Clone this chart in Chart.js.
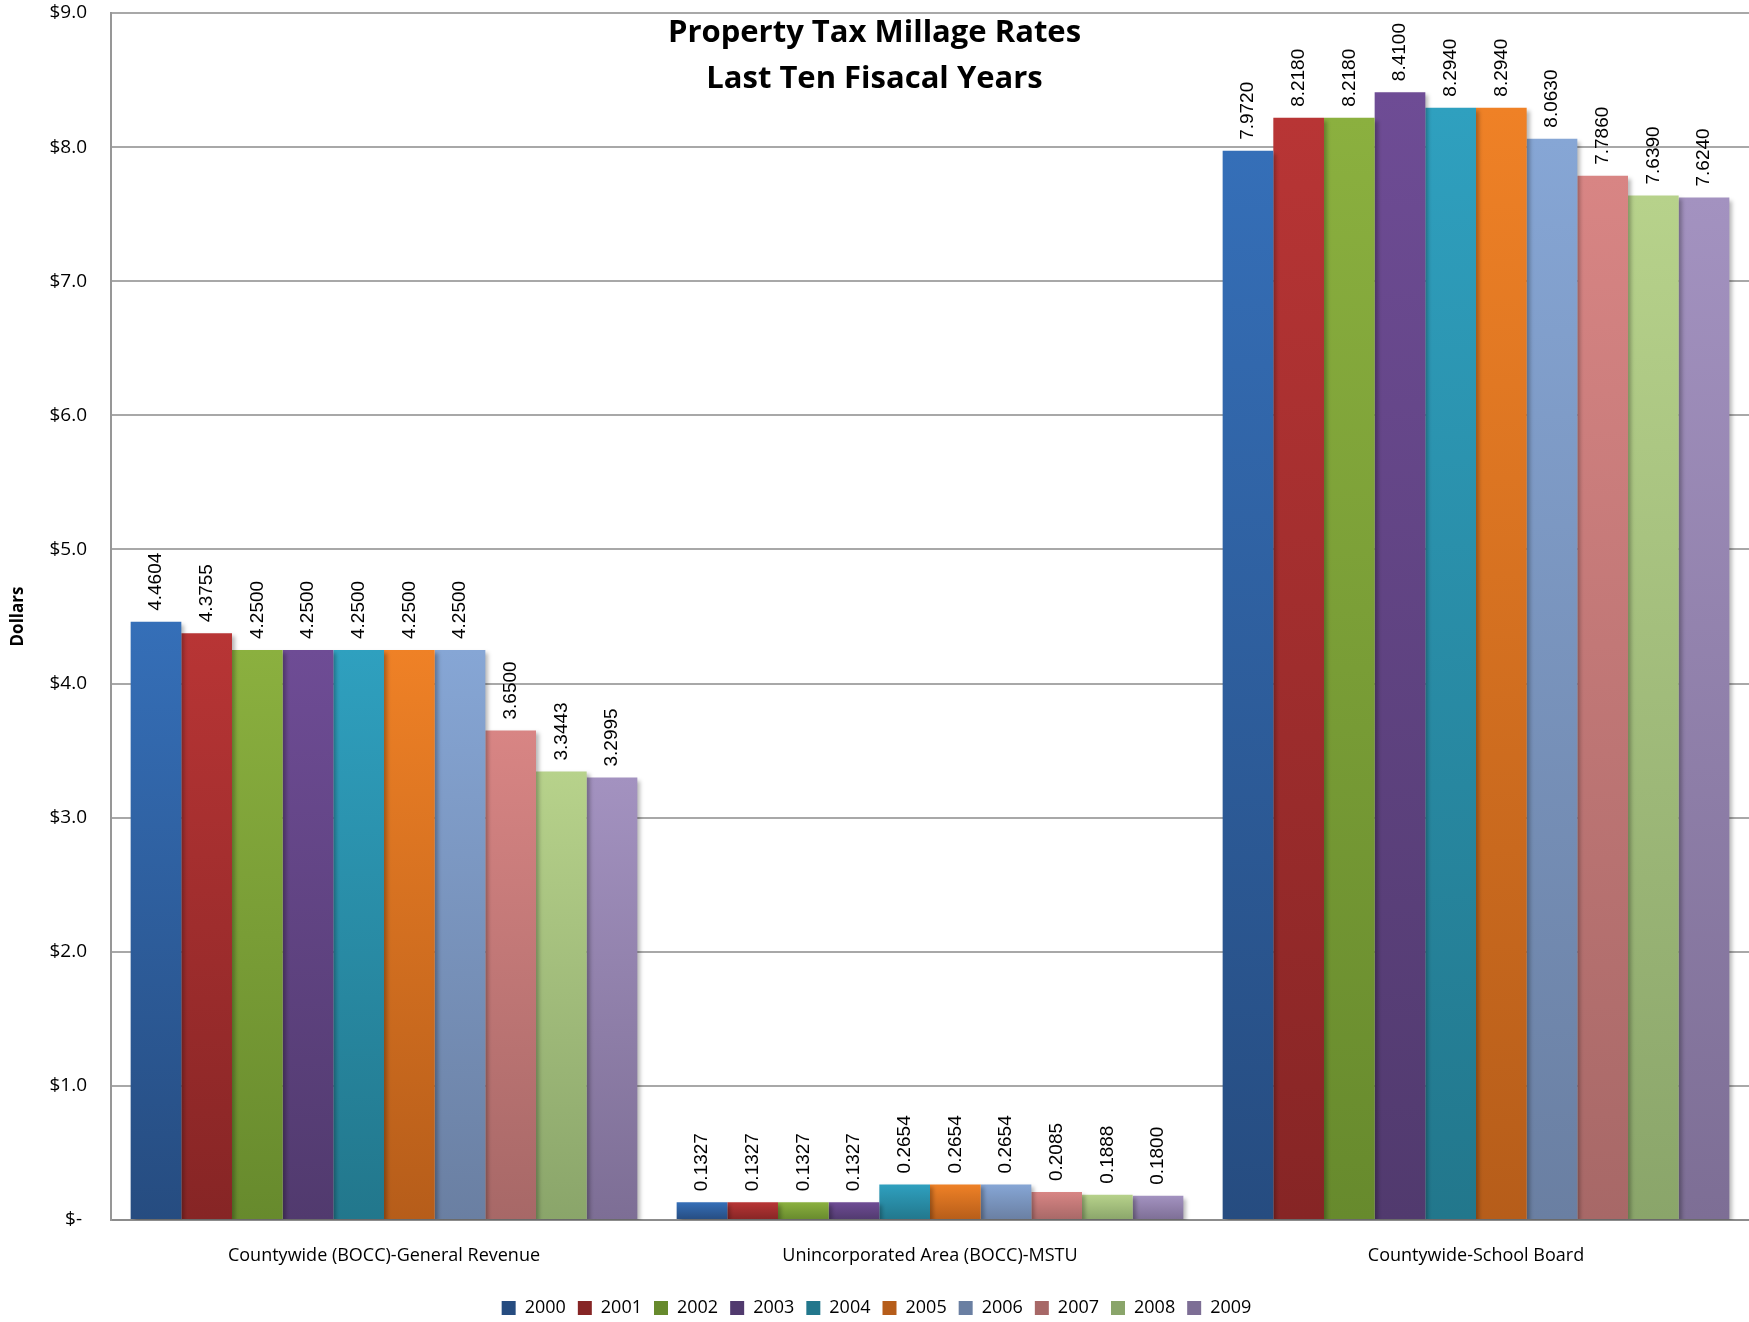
<!DOCTYPE html>
<html>
<head>
<meta charset="utf-8">
<script src="https://cdn.jsdelivr.net/npm/chart.js@4"></script>
<style>
  body { margin: 0; background: #fff; }
  #wrap { width: 1749px; height: 1322px; }
</style>
</head>
<body>
<div id="wrap"><canvas id="millageChart"></canvas></div>
<script>
// categories on the x axis
const categories = ['Countywide (BOCC)-General Revenue', 'Unincorporated Area (BOCC)-MSTU', 'Countywide-School Board'];
const years = ['2000', '2001', '2002', '2003', '2004', '2005', '2006', '2007', '2008', '2009'];

// millage rate per year, one array per category
const generalRevenue = [4.4604, 4.3755, 4.2500, 4.2500, 4.2500, 4.2500, 4.2500, 3.6500, 3.3443, 3.2995];
const mstu = [0.1327, 0.1327, 0.1327, 0.1327, 0.2654, 0.2654, 0.2654, 0.2085, 0.1888, 0.1800];
const schoolBoard = [7.9720, 8.2180, 8.2180, 8.4100, 8.2940, 8.2940, 8.0630, 7.7860, 7.6390, 7.6240];

const yTicks = [0, 1, 2, 3, 4, 5, 6, 7, 8, 9];

// light (top) and dark (bottom) shade of each year's bar
const topColors = ['#356fb8', '#b83535', '#8bb03f', '#6e4c95', '#2fa0bf', '#ef8126', '#86a6d5', '#d88584', '#b7d28b', '#a392c0'];
const bottomColors = ['#264c80', '#862525', '#678a2d', '#513a6e', '#22778c', '#b65d1a', '#6a7fa2', '#a76867', '#8aa56a', '#7d6e95'];

const font = "'Open Sans', 'Liberation Sans', sans-serif";

function barFill(i) {
    return (ctx) => {
        if (ctx.type !== 'data') return topColors[i];
        const chart = ctx.chart;
        if (!chart.chartArea) return topColors[i];
        const y = chart.scales.y;
        const top = y.getPixelForValue(ctx.raw);
        const bottom = y.getPixelForValue(0);
        if (!(bottom > top)) return topColors[i];
        const g = chart.ctx.createLinearGradient(0, top, 0, bottom);
        g.addColorStop(0, topColors[i]);
        g.addColorStop(1, bottomColors[i]);
        return g;
    };
}

const datasets = years.map((yr, i) => ({
    label: yr,
    data: [generalRevenue[i], mstu[i], schoolBoard[i]],
    backgroundColor: barFill(i),
    borderWidth: 0,
    categoryPercentage: 0.928,
    barPercentage: 1.0
}));

// bar shadow + rotated value labels
const barDecor = {
    id: 'barDecor',
    beforeDatasetsDraw(chart) {
        const c = chart.ctx;
        c.save();
        c.shadowColor = 'rgba(0,0,0,0.28)';
        c.shadowBlur = 4;
        c.shadowOffsetX = 3;
        c.shadowOffsetY = 3;
    },
    afterDatasetsDraw(chart) {
        const c = chart.ctx;
        c.restore();
        c.save();
        c.font = "19px 'Liberation Sans', Arial, sans-serif";
        c.fillStyle = '#000';
        c.textAlign = 'left';
        c.textBaseline = 'middle';
        chart.data.datasets.forEach((ds, di) => {
            const meta = chart.getDatasetMeta(di);
            meta.data.forEach((bar, j) => {
                c.save();
                c.translate(bar.x, bar.y - 11);
                c.rotate(-Math.PI / 2);
                c.fillText(ds.data[j].toFixed(4), 0, 0);
                c.restore();
            });
        });
        c.restore();
    }
};

// two-line title drawn over the plot
const overTitle = {
    id: 'overTitle',
    afterDraw(chart) {
        const c = chart.ctx;
        c.save();
        c.font = "bold 31px " + font;
        c.fillStyle = '#000';
        c.textAlign = 'center';
        c.textBaseline = 'middle';
        c.fillText('Property Tax Millage Rates', chart.width / 2, 33);
        c.fillText('Last Ten Fisacal Years', chart.width / 2, 79);
        c.restore();
    }
};

new Chart(document.getElementById('millageChart'), {
    type: 'bar',
    data: { labels: categories, datasets: datasets },
    options: {
        responsive: true,
        maintainAspectRatio: false,
        animation: false,
        layout: { padding: { top: 13, left: 4, right: 0, bottom: -5 } },
        scales: {
            x: {
                grid: { display: false },
                border: { color: '#8c8c8c', width: 2 },
                ticks: { color: '#000', font: { family: font, size: 18 }, padding: 17 },
                afterFit(scale) { scale.height = 67; }
            },
            y: {
                min: 0,
                max: 9,
                afterBuildTicks(scale) { scale.ticks = yTicks.map(v => ({ value: v })); },
                grid: { color: '#a8a8a8', lineWidth: 2, drawTicks: false },
                border: { color: '#979797', width: 2 },
                ticks: {
                    color: '#000',
                    font: { family: font, size: 19 },
                    padding: 24,
                    callback: (v) => v === 0 ? '$- ' : '$' + Number(v).toFixed(1)
                },
                title: {
                    display: true,
                    text: 'Dollars',
                    color: '#000',
                    font: { family: font, size: 17, weight: 'bold' },
                    padding: { top: 4, bottom: 0 }
                },
                afterFit(scale) {
                    scale.width = 107;
                    scale.paddingTop = 10;
                    scale.paddingBottom = 10;
                }
            }
        },
        plugins: {
            legend: {
                position: 'bottom',
                labels: {
                    color: '#000',
                    font: { family: font, size: 18 },
                    boxWidth: 14,
                    boxHeight: 14,
                    padding: 12
                }
            },
            tooltip: { enabled: false }
        }
    },
    plugins: [barDecor, overTitle]
});
</script>
</body>
</html>
